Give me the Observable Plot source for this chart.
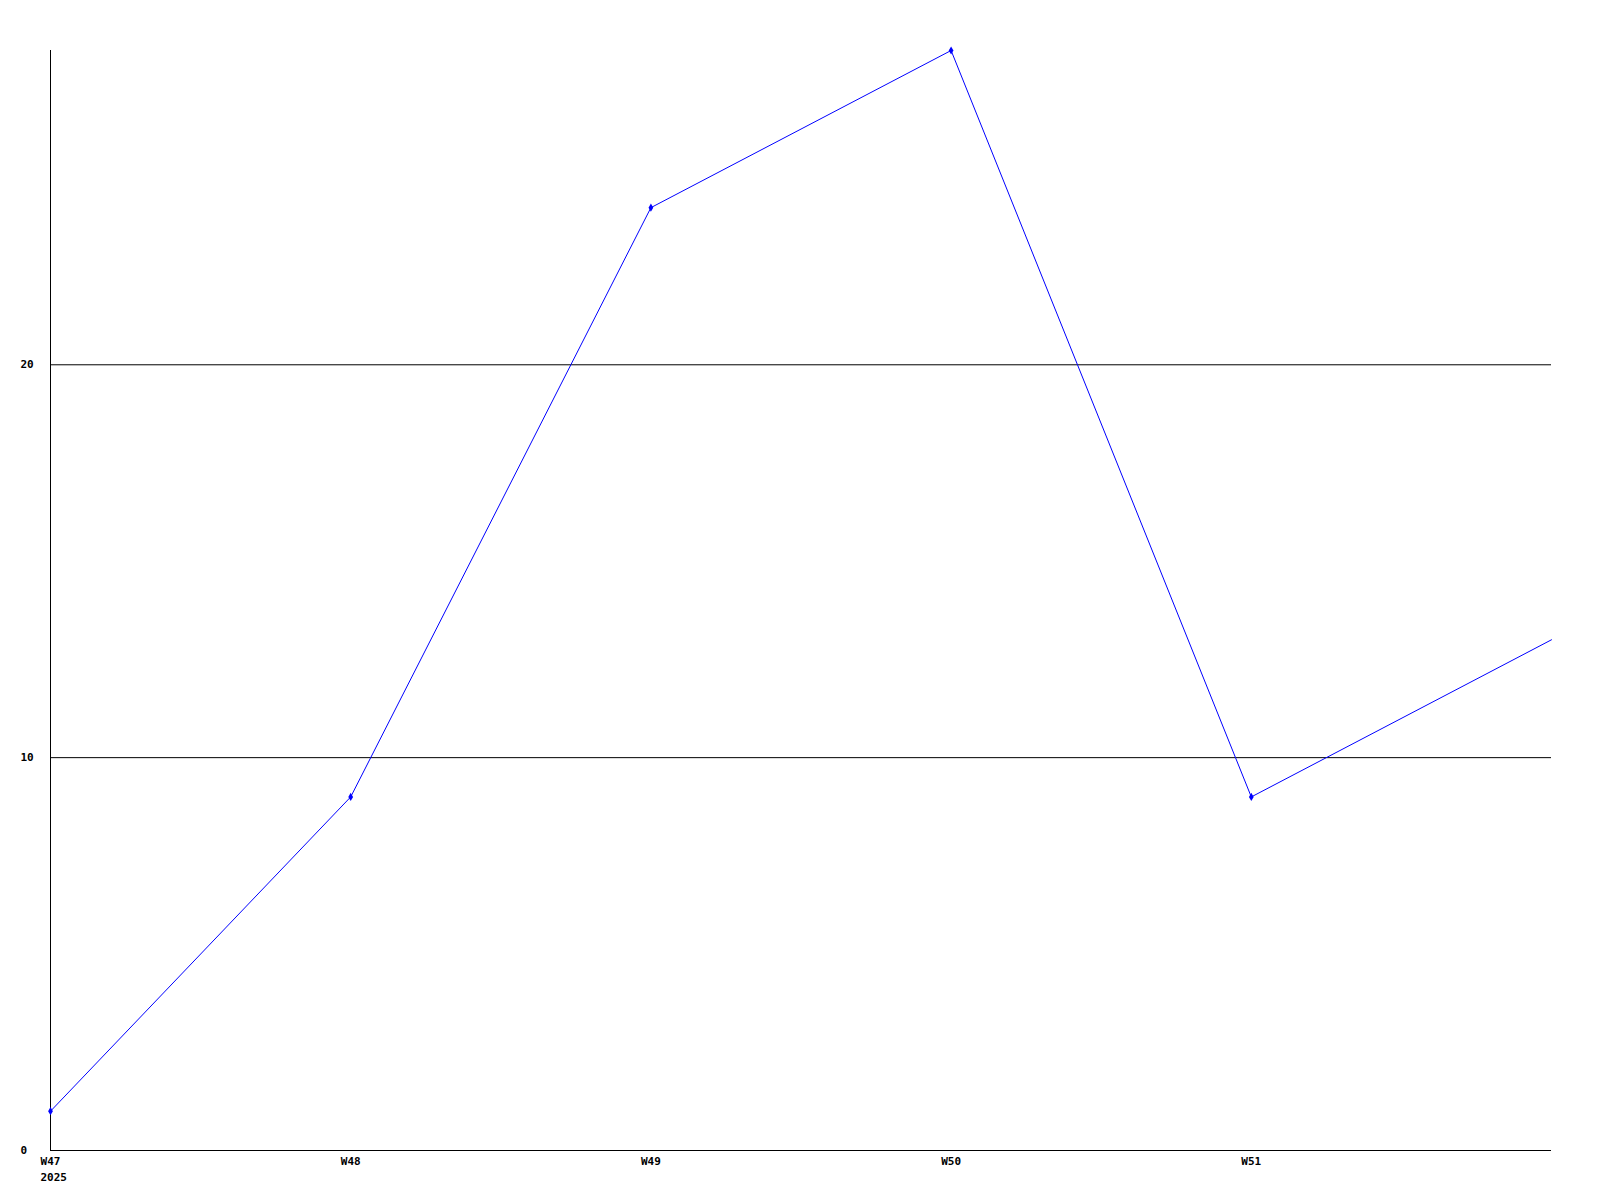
<!DOCTYPE html>
<html>
<head>
<meta charset="utf-8">
<script src="https://cdn.jsdelivr.net/npm/d3@7"></script>
<script src="https://cdn.jsdelivr.net/npm/@observablehq/plot@0.6"></script>
<style>
  html, body { margin: 0; padding: 0; background: #fff; }
  #chart svg { display: block; }
</style>
</head>
<body>
<div id="chart"></div>
<script>
const weeks = [47, 48, 49, 50, 51, 52];
const values = [1, 9, 24, 28, 9, 13];
const tickWeeks = [47, 48, 49, 50, 51];
const yTicks = [0, 10, 20];
const gridValues = [10, 20];
const yearLabel = [{ w: 47, text: "2025" }];

const data = weeks.map((w, i) => ({ w, v: values[i] }));
const marked = data.filter(d => tickWeeks.includes(d.w));

const font = "'DejaVu Sans Mono', monospace";

const chart = Plot.plot({
  width: 1600,
  height: 1200,
  marginLeft: 50,
  marginRight: 49,
  marginTop: 50,
  marginBottom: 50,
  style: { fontFamily: font, fontSize: "11px", fontWeight: "bold", background: "#fff", color: "#000" },
  x: { domain: [47, 52], label: null },
  y: { domain: [0, 28], label: null },
  marks: [
    Plot.ruleY(gridValues, { stroke: "#000", strokeWidth: 1 }),
    Plot.ruleY([0], { stroke: "#000", strokeWidth: 1 }),
    Plot.ruleX([47], { y1: 0, y2: 28, stroke: "#000", strokeWidth: 1 }),
    Plot.axisY({ ticks: yTicks, tickSize: 0, tickPadding: 30, textAnchor: "start", label: null, fontWeight: "bold" }),
    Plot.axisX({ ticks: tickWeeks, tickFormat: d => "W" + d, tickSize: 0, tickPadding: 7, label: null, fontWeight: "bold" }),
    Plot.text(yearLabel, { x: "w", y: () => 0, text: "text", dy: 27, dx: -10, textAnchor: "start", fontWeight: "bold", fill: "#000" }),
    Plot.line(data, { x: "w", y: "v", stroke: "#0000ff", strokeWidth: 1 }),
    Plot.dot(marked, { x: "w", y: "v", symbol: "diamond", r: 2.5, fill: "#0000ff", stroke: null })
  ]
});
document.getElementById("chart").appendChild(chart);
</script>
</body>
</html>
